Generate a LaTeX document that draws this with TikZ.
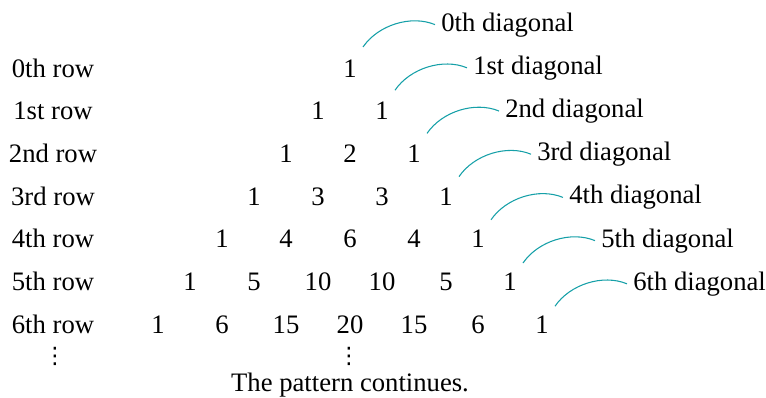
\documentclass[tikz,border=0pt]{standalone}
\usepackage{fontspec}
\setmainfont{Liberation Serif}
\newfontfamily\dejavu{DejaVu Sans}
\definecolor{teal1}{RGB}{22,160,168}
\begin{document}
\begin{tikzpicture}[x=0.75pt,y=-0.75pt,
  font=\fontsize{20}{24}\selectfont,
  num/.style={anchor=base, inner sep=0pt},
  rowlbl/.style={anchor=base, inner sep=0pt},
  diaglbl/.style={anchor=base west, inner xsep=4.5pt, inner ysep=0pt},
  dotsnode/.style={anchor=center, inner sep=0pt, font=\dejavu\fontsize{17}{20}\selectfont},
  diagarc/.style={draw=teal1, line width=0.8pt}]
\useasboundingbox (0,0) rectangle (766,397);
% row labels
\foreach \r/\lab in {0/0th,1/1st,2/2nd,3/3rd,4/4th,5/5th,6/6th}
  \node[rowlbl] (row\r) at (53, {77+42.7*\r}) {\lab\ row};
% numbers
\foreach \n/\vals in {0/{1},1/{1,1},2/{1,2,1},3/{1,3,3,1},4/{1,4,6,4,1},5/{1,5,10,10,5,1},6/{1,6,15,20,15,6,1}}{
  \foreach \v [count=\k from 0] in \vals {
    \node[num] (n\n-\k) at ({350+32*(2*\k-\n)}, {77+42.7*\n}) {\v};
  }
}
% diagonals
\foreach \d/\lab in {0/0th,1/1st,2/2nd,3/3rd,4/4th,5/5th,6/6th}{
  \coordinate (s\d) at ({363+32*\d}, {47+43.2*\d});
  \node[diaglbl] (d\d) at ({435+32*\d}, {31+43.2*\d}) {\lab\ diagonal};
  \draw[diagarc] (s\d) .. controls +(15,-22) and +(-24,-10) .. (d\d.west);
}
% continuation
\node[dotsnode] (dotsL) at (55, 356) {⋮};
\node[dotsnode] (dotsC) at (349, 356) {⋮};
\node[num] (cont) at (350, 391) {The pattern continues.};
\end{tikzpicture}
\end{document}
